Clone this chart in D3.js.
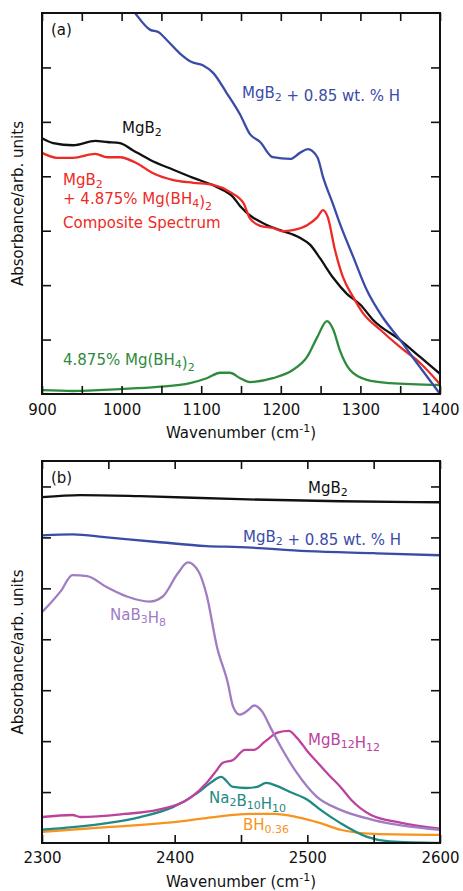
<!DOCTYPE html>
<html>
<head>
<meta charset="utf-8">
<script src="https://cdn.jsdelivr.net/npm/d3@7"></script>
<style>
  body { margin: 0; background: #fff; }
  svg { display: block; font-family: "DejaVu Sans", Verdana, sans-serif; }
</style>
</head>
<body>
<svg id="chart" width="463" height="891"></svg>
<script>
// Panel (a) spectra, [wavenumber, absorbance]
const mgb2A = [[900,4.70],[914,4.61],[939,4.57],[967,4.65],[982,4.63],[998,4.61],[1014,4.48],[1036,4.30],[1065,4.12],[1090,3.97],[1120,3.80],[1140,3.62],[1149,3.45],[1183,3.10],[1199,3.01],[1224,2.87],[1237,2.74],[1249,2.50],[1266,2.13],[1283,1.84],[1300,1.64],[1316,1.36],[1350,0.99],[1375,0.68],[1400,0.37]];
const mgb2HA = [[1005,7.25],[1017,7.0],[1036,6.69],[1046,6.65],[1057,6.50],[1073,6.26],[1088,6.10],[1102,6.04],[1115,5.90],[1132,5.53],[1149,5.13],[1161,4.78],[1174,4.63],[1190,4.35],[1212,4.32],[1224,4.43],[1234,4.50],[1246,4.35],[1253,3.99],[1266,3.47],[1274,3.14],[1291,2.52],[1308,1.91],[1328,1.41],[1350,0.99],[1371,0.57],[1400,0.0]];
const composite = [[900,4.43],[919,4.34],[939,4.34],[967,4.41],[982,4.35],[998,4.35],[1019,4.24],[1039,4.06],[1065,3.93],[1090,3.88],[1115,3.84],[1136,3.71],[1153,3.51],[1161,3.23],[1174,3.09],[1190,3.05],[1203,2.99],[1215,3.01],[1233,3.10],[1246,3.25],[1253,3.38],[1259,3.25],[1268,2.65],[1278,2.15],[1291,1.78],[1303,1.49],[1325,1.18],[1350,0.86],[1375,0.57],[1400,0.18]];
const mgbh4 = [[900,0.07],[939,0.055],[998,0.09],[1045,0.13],[1086,0.20],[1107,0.29],[1124,0.39],[1136,0.39],[1149,0.29],[1161,0.22],[1190,0.29],[1215,0.44],[1233,0.68],[1246,1.05],[1258,1.34],[1266,1.18],[1274,0.81],[1287,0.44],[1308,0.26],[1337,0.20],[1400,0.165]];

// Panel (b) spectra
const mgb2B = [[2300,6.79],[2329,6.83],[2374,6.81],[2449,6.75],[2525,6.71],[2600,6.69]];
const mgb2HB = [[2300,6.04],[2323,6.06],[2349,6.00],[2387,5.91],[2424,5.83],[2449,5.81],[2500,5.73],[2550,5.69],[2600,5.65]];
const nab3h8 = [[2300,4.53],[2314,4.94],[2323,5.26],[2334,5.24],[2349,5.02],[2364,4.84],[2381,4.74],[2391,4.84],[2402,5.28],[2410,5.51],[2418,5.33],[2424,4.88],[2432,3.84],[2440,3.15],[2444,2.68],[2449,2.52],[2455,2.60],[2460,2.70],[2466,2.58],[2472,2.28],[2480,1.89],[2492,1.38],[2507,0.91],[2525,0.65],[2550,0.45],[2600,0.26]];
const mgb12h12 = [[2300,0.51],[2323,0.55],[2329,0.51],[2362,0.57],[2387,0.65],[2412,0.89],[2424,1.18],[2432,1.44],[2436,1.57],[2444,1.63],[2453,1.83],[2460,1.83],[2468,1.99],[2478,2.17],[2486,2.20],[2492,2.07],[2501,1.77],[2508,1.57],[2516,1.34],[2525,1.10],[2533,0.85],[2548,0.55],[2570,0.40],[2600,0.28]];
const na2b10h10 = [[2300,0.26],[2323,0.31],[2349,0.39],[2374,0.51],[2399,0.71],[2417,0.98],[2427,1.18],[2435,1.30],[2444,1.10],[2454,1.08],[2462,1.10],[2469,1.18],[2477,1.12],[2487,1.00],[2500,0.85],[2510,0.65],[2525,0.39],[2545,0.12],[2562,0.03],[2600,0.0]];
const bh036 = [[2300,0.22],[2349,0.31],[2399,0.41],[2424,0.49],[2457,0.57],[2475,0.57],[2492,0.51],[2510,0.39],[2525,0.26],[2550,0.18],[2600,0.16]];

const xTicksA = d3.range(900, 1401, 50);
const xTicksB = d3.range(2300, 2601, 50);
const yTicksA = [1, 2, 3, 4, 5, 6];
const yTicksB = [1, 2, 3, 4, 5, 6, 7];

const svg = d3.select('#chart');
const font = 15;

function mkLabel(g, x, y, color, parts) {
  const t = g.append('text').attr('x', x).attr('y', y)
    .attr('fill', color).attr('font-size', font);
  parts.forEach(p => {
    if (typeof p === 'string') {
      t.append('tspan').text(p);
    } else {
      t.append('tspan').attr('dy', 3).attr('font-size', 11).text(p.sub);
      t.append('tspan').attr('dy', -3).text('');
    }
  });
  return t;
}

function drawPanel(cfg) {
  const g = svg.append('g');
  const x = d3.scaleLinear().domain(cfg.xDomain).range([42, 440]);
  const y = d3.scaleLinear().domain(cfg.yDomain).range([cfg.bottom, cfg.top]);

  const clipId = 'clip-' + cfg.name;
  g.append('clipPath').attr('id', clipId)
    .append('rect').attr('x', 42).attr('y', cfg.top)
    .attr('width', 398).attr('height', cfg.bottom - cfg.top);

  const line = d3.line().x(d => x(d[0])).y(d => y(d[1])).curve(d3.curveMonotoneX);
  const lines = g.append('g').attr('clip-path', `url(#${clipId})`);
  cfg.series.forEach(s => {
    lines.append('path').datum(s.data)
      .attr('d', line)
      .attr('fill', 'none')
      .attr('stroke', s.color)
      .attr('stroke-width', 2.3)
      .attr('stroke-linejoin', 'round');
  });

  // axes, ticks pointing inward
  const fmt = d => d % 100 === 0 ? d : '';
  g.append('g').attr('transform', `translate(0,${cfg.bottom})`)
    .call(d3.axisBottom(x).tickValues(cfg.xTicks).tickFormat(fmt).tickSizeInner(-8).tickSizeOuter(0).tickPadding(cfg.pad));
  g.append('g').attr('transform', `translate(0,${cfg.top})`)
    .call(d3.axisTop(x).tickValues(cfg.xTicks).tickFormat('').tickSizeInner(-8).tickSizeOuter(0));
  g.append('g').attr('transform', 'translate(42,0)')
    .call(d3.axisLeft(y).tickValues(cfg.yTicks).tickFormat('').tickSizeInner(-9).tickSizeOuter(0));
  g.append('g').attr('transform', 'translate(440,0)')
    .call(d3.axisRight(y).tickValues(cfg.yTicks).tickFormat('').tickSizeInner(-9).tickSizeOuter(0));
  g.selectAll('.domain').remove();
  g.selectAll('.tick line').attr('stroke', '#111').attr('stroke-width', 1.6);
  g.selectAll('.tick text').attr('font-size', font).attr('fill', '#111')
    .attr('font-family', '"DejaVu Sans", Verdana, sans-serif');

  g.append('rect').attr('x', 42).attr('y', cfg.top)
    .attr('width', 398).attr('height', cfg.bottom - cfg.top)
    .attr('fill', 'none').attr('stroke', '#111').attr('stroke-width', 2);

  // axis titles
  const xt = g.append('text').attr('x', 241).attr('y', cfg.titleY)
    .attr('text-anchor', 'middle').attr('font-size', font).attr('fill', '#111');
  xt.append('tspan').text('Wavenumber (cm');
  xt.append('tspan').attr('dy', -6).attr('font-size', 11).text('-1');
  xt.append('tspan').attr('dy', 6).text(')');

  g.append('text')
    .attr('transform', `translate(23,${(cfg.top + cfg.bottom) / 2}) rotate(-90)`)
    .attr('text-anchor', 'middle').attr('font-size', font).attr('fill', '#111')
    .text('Absorbance/arb. units');

  g.append('text').attr('x', 51).attr('y', cfg.top + 22)
    .attr('font-size', font).attr('fill', '#111').text(cfg.name === 'a' ? '(a)' : '(b)');

  cfg.labels.forEach(l => mkLabel(g, l.x, l.y, l.color, l.parts));
}

const BLACK = '#111111', BLUE = '#3a4ca8', RED = '#ee2a26', GREEN = '#2e8b3c';
const PURPLE = '#a07cc2', MAGENTA = '#be419e', TEAL = '#1f8a82', ORANGE = '#f7941e';

drawPanel({
  name: 'a', xDomain: [900, 1400], yDomain: [0, 7], top: 13, bottom: 394,
  xTicks: xTicksA, yTicks: yTicksA, pad: 10, titleY: 438,
  series: [
    { data: mgbh4, color: GREEN },
    { data: mgb2A, color: BLACK },
    { data: composite, color: RED },
    { data: mgb2HA, color: BLUE }
  ],
  labels: [
    { x: 242, y: 98, color: BLUE, parts: ['MgB', { sub: '2' }, ' + 0.85 wt. % H'] },
    { x: 122, y: 133, color: BLACK, parts: ['MgB', { sub: '2' }] },
    { x: 63, y: 185, color: RED, parts: ['MgB', { sub: '2' }] },
    { x: 63, y: 204, color: RED, parts: ['+ 4.875% Mg(BH', { sub: '4' }, ')', { sub: '2' }] },
    { x: 63, y: 228, color: RED, parts: ['Composite Spectrum'] },
    { x: 63, y: 365, color: GREEN, parts: ['4.875% Mg(BH', { sub: '4' }, ')', { sub: '2' }] }
  ]
});

drawPanel({
  name: 'b', xDomain: [2300, 2600], yDomain: [0, 7.5], top: 461, bottom: 843,
  xTicks: xTicksB, yTicks: yTicksB, pad: 9, titleY: 887,
  series: [
    { data: bh036, color: ORANGE },
    { data: na2b10h10, color: TEAL },
    { data: mgb12h12, color: MAGENTA },
    { data: nab3h8, color: PURPLE },
    { data: mgb2HB, color: BLUE },
    { data: mgb2B, color: BLACK }
  ],
  labels: [
    { x: 308, y: 493, color: BLACK, parts: ['MgB', { sub: '2' }] },
    { x: 243, y: 542, color: BLUE, parts: ['MgB', { sub: '2' }, ' + 0.85 wt. % H'] },
    { x: 110, y: 620, color: PURPLE, parts: ['NaB', { sub: '3' }, 'H', { sub: '8' }] },
    { x: 308, y: 745, color: MAGENTA, parts: ['MgB', { sub: '12' }, 'H', { sub: '12' }] },
    { x: 209, y: 803, color: TEAL, parts: ['Na', { sub: '2' }, 'B', { sub: '10' }, 'H', { sub: '10' }] },
    { x: 243, y: 830, color: ORANGE, parts: ['BH', { sub: '0.36' }] }
  ]
});
</script>
</body>
</html>
